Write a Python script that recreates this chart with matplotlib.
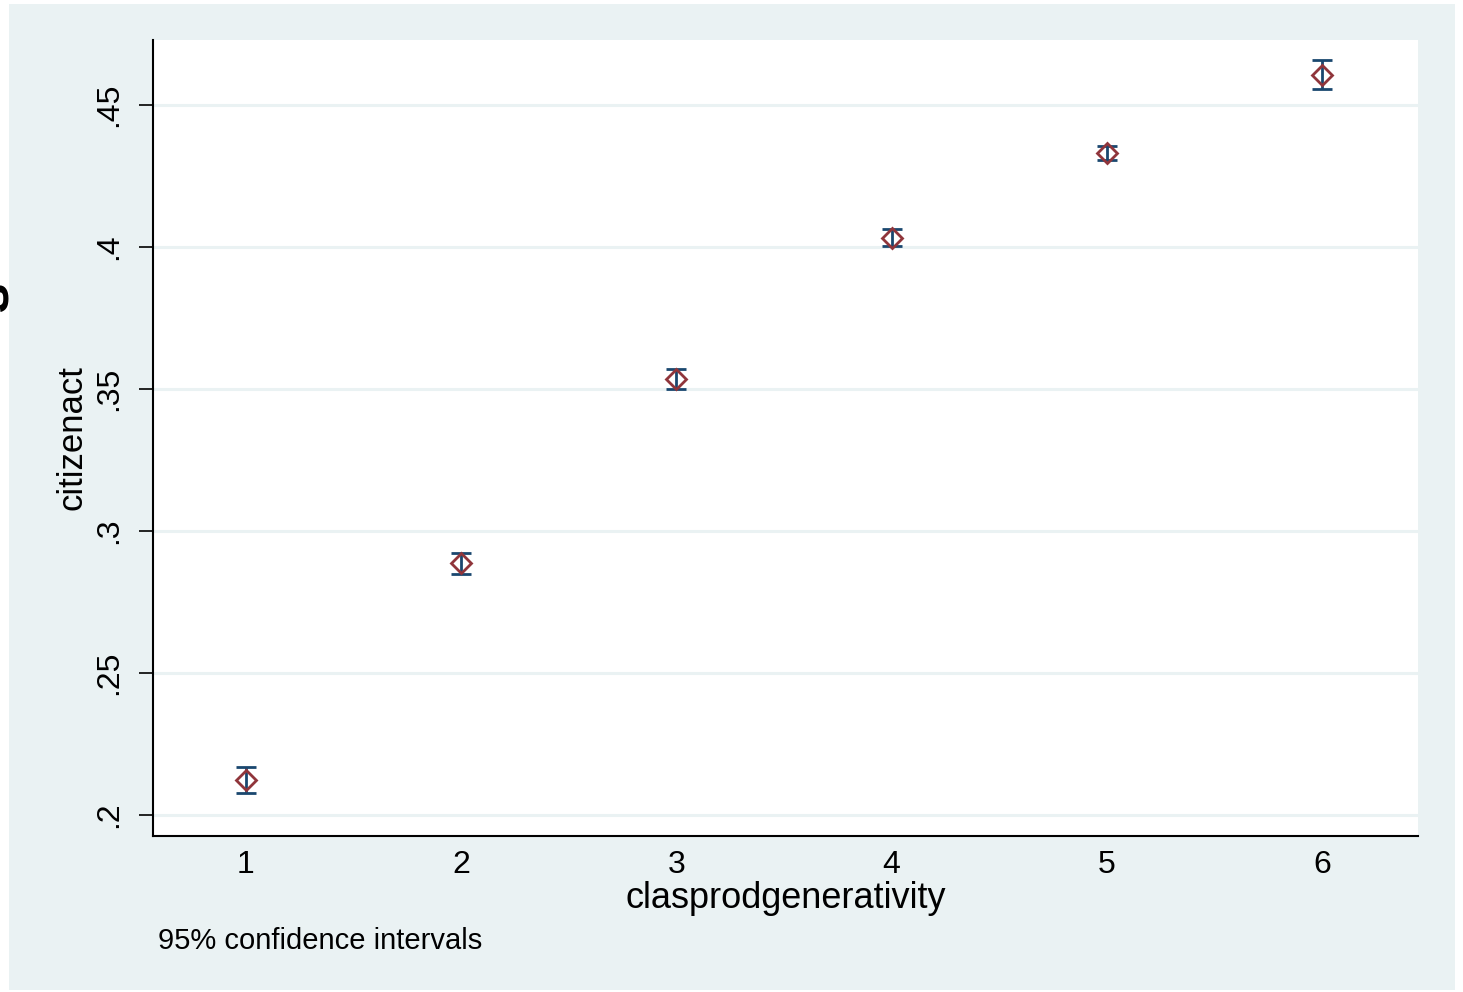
import matplotlib.pyplot as plt
from matplotlib.patches import Rectangle

plt.rcParams['font.family'] = ['Liberation Sans', 'DejaVu Sans']

# values
groups = [1, 2, 3, 4, 5, 6]
means = [0.2123, 0.2887, 0.3535, 0.4032, 0.4331, 0.4606]
ci_half = [0.0046, 0.0037, 0.0035, 0.0030, 0.0025, 0.0051]
yticks = [0.2, 0.25, 0.3, 0.35, 0.4, 0.45]
ytick_labels = ['.2', '.25', '.3', '.35', '.4', '.45']

W, H = 1463, 992
fig = plt.figure(figsize=(W / 100, H / 100), dpi=100, facecolor='white')

# stray glyph cut off at the left edge, under the graph background
fig.text(-6 / W, 1 - 297 / H, 's', rotation=90, fontsize=40, fontweight='bold',
         ha='center', va='center', zorder=0)

# Stata-style graph region
bg = Rectangle((9 / W, 1 - 990 / H), (1455 - 9) / W, (990 - 4) / H,
               transform=fig.transFigure, facecolor='#EAF2F3', edgecolor='none', zorder=1)
fig.patches.append(bg)

ax = fig.add_axes([153 / W, 1 - 836 / H, (1418 - 153) / W, (836 - 40) / H])
ax.set_zorder(2)
ax.set_facecolor('white')

ax.errorbar(groups, means, yerr=ci_half, fmt='none', ecolor='#1A476F',
            elinewidth=2, capsize=7, capthick=2, zorder=3)
ax.plot(groups, means, 'D', markersize=10.5, markerfacecolor='none',
        markeredgecolor='#90353B', markeredgewidth=2, zorder=4)

ax.set_xlim(0.568, 6.446)
ax.set_ylim(0.1926, 0.4729)
ax.set_xticks(groups)
ax.set_yticks(yticks)
ax.set_yticklabels(ytick_labels)
ax.grid(axis='y', color='#EAF2F3', linewidth=2.2)
ax.set_axisbelow(True)

for s in ['top', 'right']:
    ax.spines[s].set_visible(False)
for s in ['left', 'bottom']:
    ax.spines[s].set_linewidth(1.5)
    ax.spines[s].set_color('black')

ax.tick_params(axis='y', length=10, width=1.2, pad=11, labelsize=23)
ax.tick_params(axis='x', length=0, pad=10, labelsize=23)
plt.setp(ax.get_yticklabels(), rotation=90, va='center')

ax.set_xlabel('clasprodgenerativity', fontsize=26, labelpad=1)
ax.set_ylabel('citizenact', fontsize=25, labelpad=4)

fig.text(158 / W, 1 - 941 / H, '95% confidence intervals', fontsize=21,
         ha='left', va='center')

fig.savefig('out.png', dpi=100, facecolor='white')
